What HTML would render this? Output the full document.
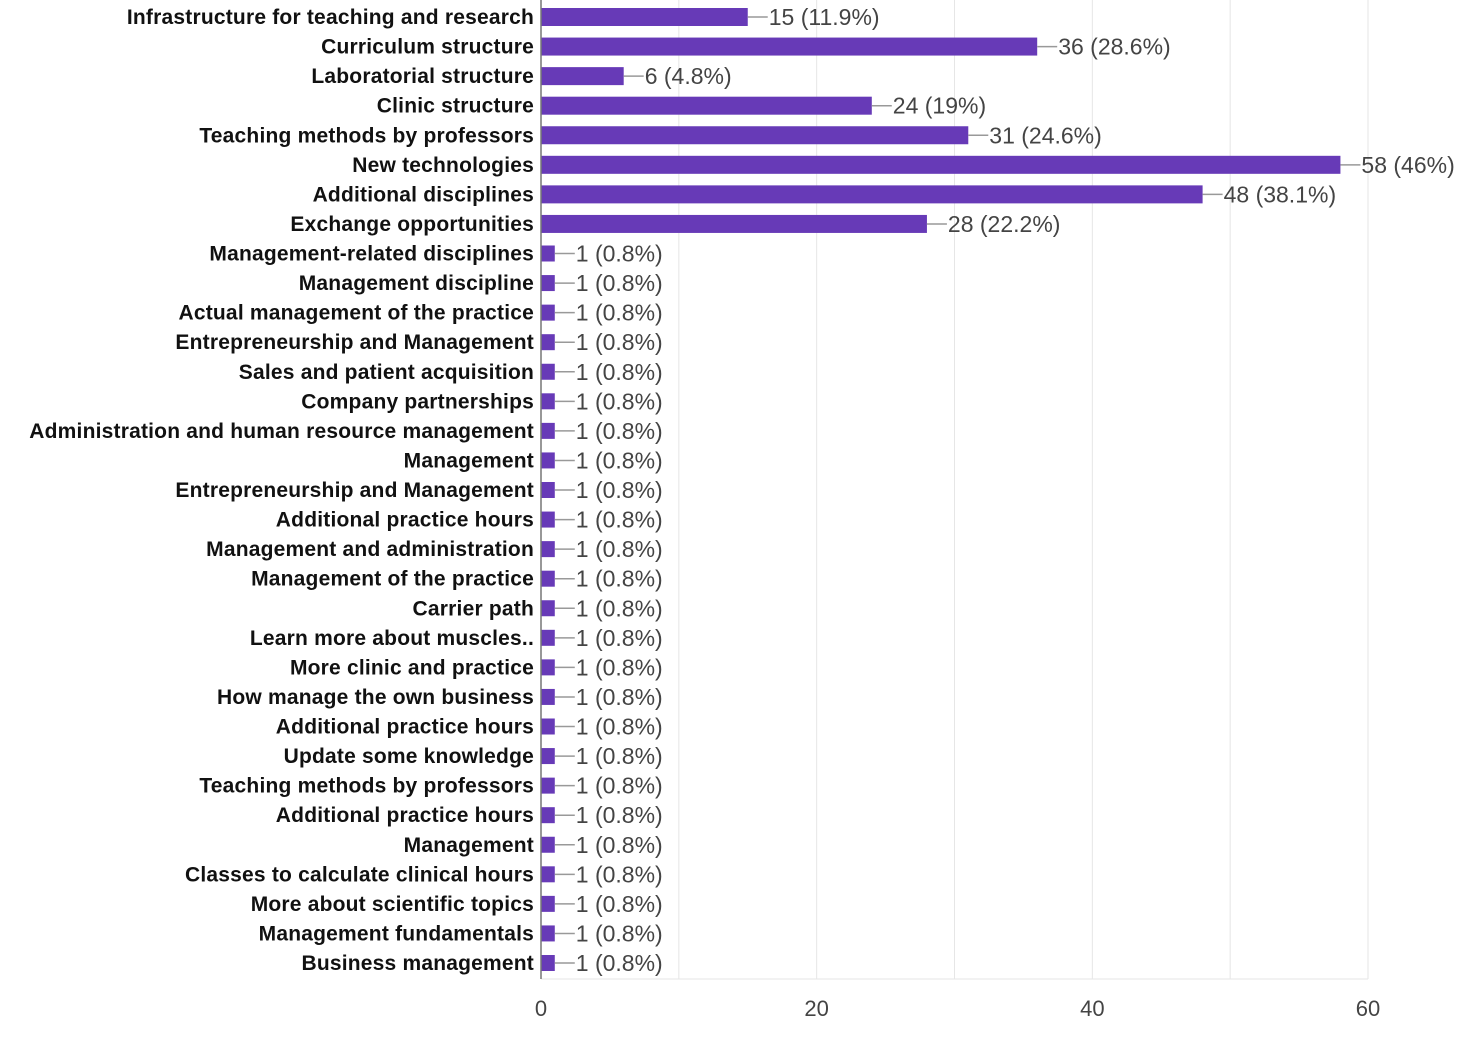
<!DOCTYPE html>
<html><head><meta charset="utf-8"><style>
body{margin:0;background:#fff;width:1472px;height:1041px;overflow:hidden}
svg text{font-family:"Liberation Sans",Arial,sans-serif}
</style></head><body>
<svg id="c" width="1472" height="1041"></svg>
<script>
const categories=["Infrastructure for teaching and research","Curriculum structure","Laboratorial structure","Clinic structure","Teaching methods by professors","New technologies","Additional disciplines","Exchange opportunities","Management-related disciplines","Management discipline","Actual management of the practice","Entrepreneurship and Management","Sales and patient acquisition","Company partnerships","Administration and human resource management","Management","Entrepreneurship and Management","Additional practice hours","Management and administration","Management of the practice","Carrier path","Learn more about muscles..","More clinic and practice","How manage the own business","Additional practice hours","Update some knowledge","Teaching methods by professors","Additional practice hours","Management","Classes to calculate clinical hours","More about  scientific topics","Management fundamentals","Business management"];
const values=[15,36,6,24,31,58,48,28,1,1,1,1,1,1,1,1,1,1,1,1,1,1,1,1,1,1,1,1,1,1,1,1,1];
const percents=["11.9%","28.6%","4.8%","19%","24.6%","46%","38.1%","22.2%","0.8%","0.8%","0.8%","0.8%","0.8%","0.8%","0.8%","0.8%","0.8%","0.8%","0.8%","0.8%","0.8%","0.8%","0.8%","0.8%","0.8%","0.8%","0.8%","0.8%","0.8%","0.8%","0.8%","0.8%","0.8%"];
const ticks=[0,20,40,60];
const grid=[10,20,30,40,50,60];
const NS="http://www.w3.org/2000/svg";
const svg=document.getElementById('c');
const x0=541,x1=1368,xmax=60,top0=17,step=(963-17)/32;
const xs=v=>x0+v*(x1-x0)/xmax;
const ys=i=>top0+i*step;
function mk(t,a){const e=document.createElementNS(NS,t);for(const k in a)e.setAttribute(k,a[k]);svg.appendChild(e);return e;}
grid.forEach(g=>{const l=mk('line',{x1:xs(g),x2:xs(g),y1:0,y2:979,stroke:'#e6e6e6','stroke-width':1});

});
const bl=mk('line',{x1:541,x2:1368,y1:979,y2:979,stroke:'#e6e6e6'});


ticks.forEach(t=>{const e=mk('text',{x:xs(t),y:1016,'text-anchor':'middle','font-size':22,fill:'#444'});e.textContent=t;

});
categories.forEach((c,i)=>{const y=ys(i);
const h=values[i]>1?18:16;
const r=mk('rect',{x:x0,y:y-h/2,width:xs(values[i])-x0,height:h,fill:'#673ab7'});


const ln=mk('line',{x1:xs(values[i]),x2:xs(values[i])+20,y1:y,y2:y,stroke:'#999','stroke-width':1.5});


const v=mk('text',{x:xs(values[i])+21,y:y+8,'font-size':23,fill:'#444'});v.textContent=values[i]+' ('+percents[i]+')';


const l=mk('text',{x:534,y:y+7,'text-anchor':'end','font-size':21,'font-weight':'bold','letter-spacing':'0.2',fill:'#111'});l.textContent=c;

});
const ax=mk('line',{x1:541,x2:541,y1:0,y2:979,stroke:'#777','stroke-width':1.5});


</script></body></html>
